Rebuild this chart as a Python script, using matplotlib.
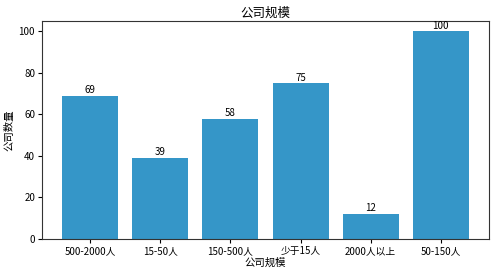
import matplotlib
matplotlib.use("Agg")
import matplotlib.pyplot as plt

plt.rcParams['font.family'] = ['Noto Sans CJK SC', 'DejaVu Sans']
plt.rcParams['axes.unicode_minus'] = False

categories = ['500-2000人', '15-50人', '150-500人', '少于15人', '2000人以上', '50-150人']
values = [69, 39, 58, 75, 12, 100]

fig = plt.figure(figsize=(4.95, 2.76), dpi=100)
ax = fig.add_axes([42/495, 1 - 239/276, (489-42)/495, (239-21)/276])
bars = ax.bar(categories, values, color='#3596c8', width=0.8)
for b, v in zip(bars, values):
    ax.text(b.get_x() + b.get_width()/2, v + 0.3, str(v), ha='center', va='bottom', fontsize=7)
ax.set_ylim(0, 105)
ax.set_title('公司规模', fontsize=9, pad=3)
ax.set_xlabel('公司规模', fontsize=7.5, labelpad=1)
ax.set_ylabel('公司数量', fontsize=7.5, labelpad=3)
ax.tick_params(labelsize=7, length=3, pad=2)
for s in ax.spines.values():
    s.set_color('#333333')
fig.savefig('out.png', dpi=100)
